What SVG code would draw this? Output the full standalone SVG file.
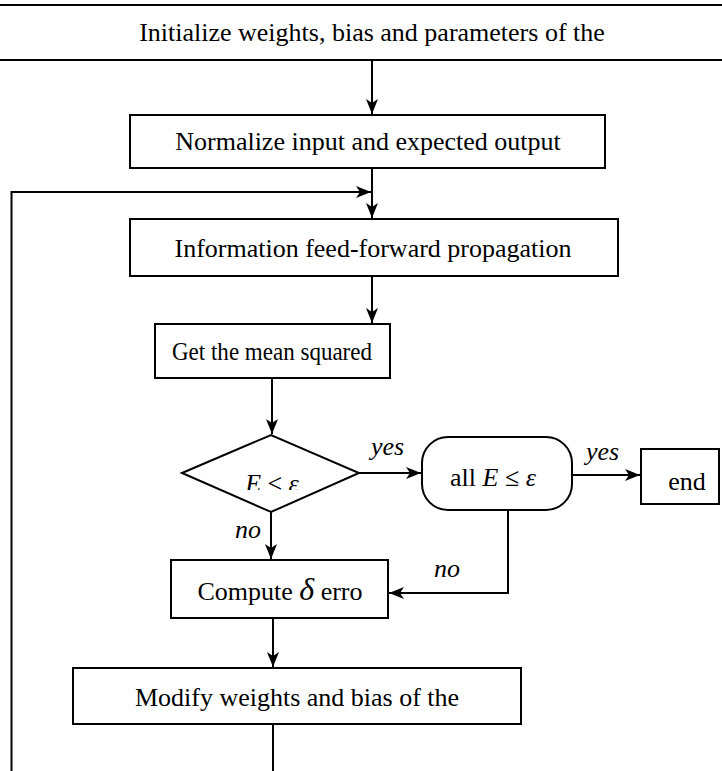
<svg xmlns="http://www.w3.org/2000/svg" width="722" height="771" viewBox="0 0 722 771">
<style>
.box{fill:#fff;stroke:#000;stroke-width:2}
.line{fill:none;stroke:#000;stroke-width:2}
text{font-family:"Liberation Serif","Times New Roman",serif;font-size:26px;fill:#000}
.c{text-anchor:middle}
.i{font-style:italic}
</style>
<defs>
<marker id="arr" markerUnits="userSpaceOnUse" markerWidth="16" markerHeight="12" refX="15" refY="6" orient="auto">
<path d="M0,0 L15,6 L0,12 L4,6 Z" fill="#000"/>
</marker>
<clipPath id="clipE"><rect x="230" y="460" width="90" height="30"/></clipPath>
</defs>
<g id="connectors">
<path class="line" d="M372,60 V114" marker-end="url(#arr)"/>
<path class="line" d="M372,168 V218" marker-end="url(#arr)"/>
<path class="line" d="M11.5,771 V192 H371" marker-end="url(#arr)"/>
<path class="line" d="M372,276 V323" marker-end="url(#arr)"/>
<path class="line" d="M272,378 V434" marker-end="url(#arr)"/>
<path class="line" d="M359,473 H421" marker-end="url(#arr)"/>
<path class="line" d="M572,475 H640" marker-end="url(#arr)"/>
<path class="line" d="M271,512 V559" marker-end="url(#arr)"/>
<path class="line" d="M508,510 V593 H389" marker-end="url(#arr)"/>
<path class="line" d="M273,618 V667" marker-end="url(#arr)"/>
<path class="line" d="M273,724 V771"/>
</g>
<g id="init">
<rect class="box" x="-5" y="5" width="732" height="55"/>
<text class="c" x="372" y="41">Initialize weights, bias and parameters of the</text>
</g>
<g id="normalize">
<rect class="box" x="130" y="115" width="475" height="53"/>
<text class="c" x="368" y="150">Normalize input and expected output</text>
</g>
<g id="feedforward">
<rect class="box" x="130" y="219" width="488" height="57"/>
<text class="c" x="373" y="257">Information feed-forward propagation</text>
</g>
<g id="mse">
<rect class="box" x="155" y="324" width="235" height="54"/>
<text class="c" x="272" y="360" textLength="200" lengthAdjust="spacingAndGlyphs">Get the mean squared</text>
</g>
<g id="decision1">
<polygon class="box" points="182,473 271,435 359,473 271,512"/>
<text class="c" x="272" y="492" clip-path="url(#clipE)"><tspan class="i">E</tspan> ≤ <tspan class="i">ε</tspan></text>
</g>
<g id="decision2">
<rect class="box" x="422" y="437" width="150" height="73" rx="26" ry="26"/>
<text class="c" x="493" y="486">all <tspan class="i">E</tspan> ≤ <tspan class="i">ε</tspan></text>
</g>
<g id="end">
<rect class="box" x="641" y="449" width="78" height="55"/>
<text class="c" x="687" y="490">end</text>
</g>
<g id="compute">
<rect class="box" x="171" y="560" width="217" height="58"/>
<text class="c" x="280" y="600">Compute <tspan class="i" font-size="32">δ</tspan> erro</text>
</g>
<g id="modify">
<rect class="box" x="73" y="668" width="448" height="56"/>
<text class="c" x="297" y="706">Modify weights and bias of the</text>
</g>
<g id="labels">
<text class="i" x="371" y="455">yes</text>
<text class="i" x="586" y="460">yes</text>
<text class="i" x="235" y="538">no</text>
<text class="i" x="434" y="577">no</text>
</g>
</svg>
